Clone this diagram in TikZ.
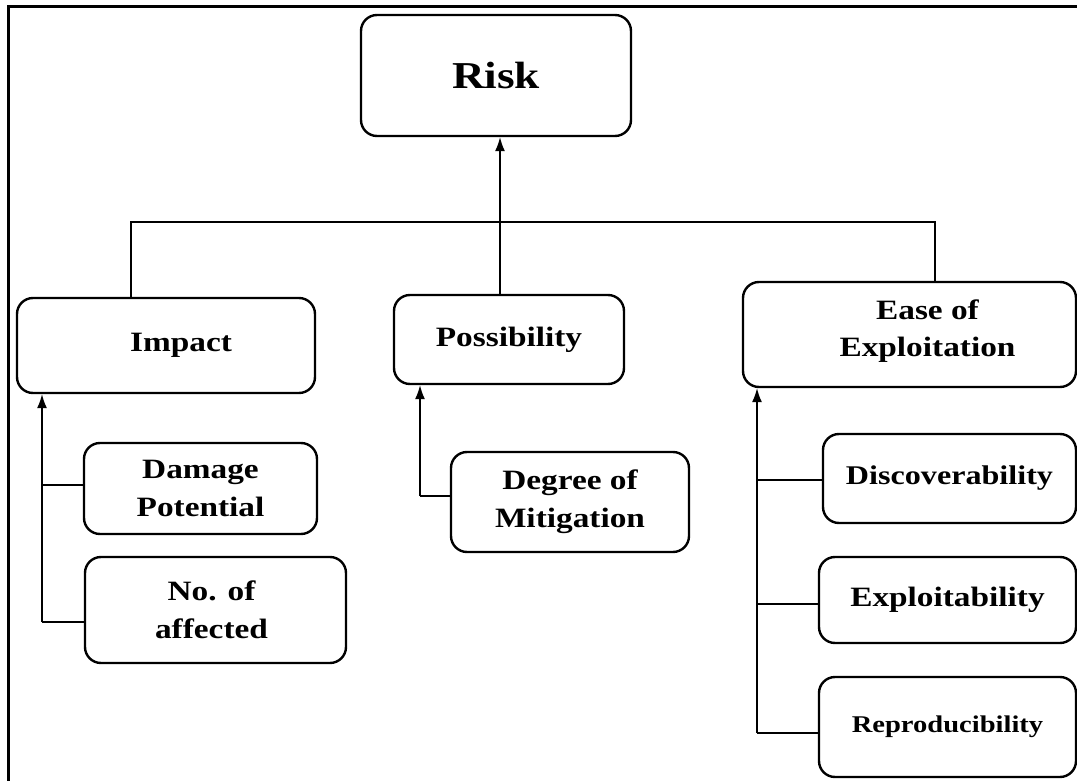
\documentclass[tikz,border=0pt]{standalone}
\usepackage{fontspec}
\newfontfamily\tnr[FakeStretch=1.19]{Liberation Serif}
\usetikzlibrary{arrows.meta}
\begin{document}
\begin{tikzpicture}[x=1pt,y=-1pt,
  box/.style={draw, line width=2.4pt, rounded corners=16pt, inner sep=0pt, align=center,
    font=\tnr\bfseries\fontsize{28}{38}\selectfont},
  conn/.style={line width=1.3pt},
  arr/.style={line width=1.3pt, -{Latex[length=14pt,width=10pt]}}]
\useasboundingbox (0,0) rectangle (1077,781);
\draw[line width=3pt] (8,781) -- (8,7) -- (1077,7);
% boxes
\node[box, minimum width=270pt, minimum height=121pt, font=\tnr\bfseries\fontsize{38}{44}\selectfont] (risk) at (496,75.5) {Risk};
\node[box, minimum width=298pt, minimum height=95pt, label={[xshift=15pt, font=\tnr\bfseries\fontsize{28}{38}\selectfont]center:Impact}] (impact) at (166,345.5) {};
\node[box, minimum width=230pt, minimum height=89pt] (poss) at (509,339.5) {Possibility};
\node[box, minimum width=333pt, minimum height=105pt, label={[xshift=18pt, yshift=3pt, align=center, font=\tnr\bfseries\fontsize{28}{37}\selectfont]center:Ease of\\Exploitation}] (ease) at (909.5,334.5) {};
\node[box, minimum width=233pt, minimum height=91pt] (dmg) at (200.5,488.5) {Damage\\Potential};
\node[box, minimum width=261pt, minimum height=106pt] (noof) at (215.5,610) {\hspace*{-8pt}No. of\\\hspace*{-8pt}affected};
\node[box, minimum width=238pt, minimum height=100pt] (deg) at (570,502) {Degree of\\Mitigation};
\node[box, minimum width=253pt, minimum height=89pt, font=\tnr\bfseries\fontsize{27}{38}\selectfont] (disc) at (949.5,478.5) {\raisebox{2pt}{Discoverability}};
\node[box, minimum width=257pt, minimum height=86pt] (expl) at (947.5,600) {Exploitability};
\node[box, minimum width=257pt, minimum height=100pt, font=\tnr\bfseries\fontsize{24}{30}\selectfont] (repr) at (947.5,727) {\raisebox{5pt}{Reproducibility}};
% top-level connectors
\coordinate (busL) at (131,222);
\coordinate (busR) at (935,222);
\draw[conn] (busL |- impact.north) -- (busL) -- (busR) -- (busR |- ease.north);
\draw[arr] ([xshift=4pt]risk.south |- poss.north) -- ([xshift=4pt]risk.south);
% impact children
\coordinate (iv) at (42,622);
\coordinate (idm) at (42,485);
\draw[arr] (iv) -- (iv |- impact.south);
\draw[conn] (idm) -- (idm -| dmg.west);
\draw[conn] (iv) -- (iv -| noof.west);
% possibility child
\coordinate (pv) at (420,496);
\draw[arr] (pv) -- (pv |- poss.south);
\draw[conn] (pv) -- (pv -| deg.west);
% ease children
\coordinate (ev) at (757,733);
\coordinate (ed) at (757,480);
\coordinate (ee) at (757,604);
\draw[arr] (ev) -- (ev |- ease.south);
\draw[conn] (ed) -- (ed -| disc.west);
\draw[conn] (ee) -- (ee -| expl.west);
\draw[conn] (ev) -- (ev -| repr.west);
\end{tikzpicture}
\end{document}
